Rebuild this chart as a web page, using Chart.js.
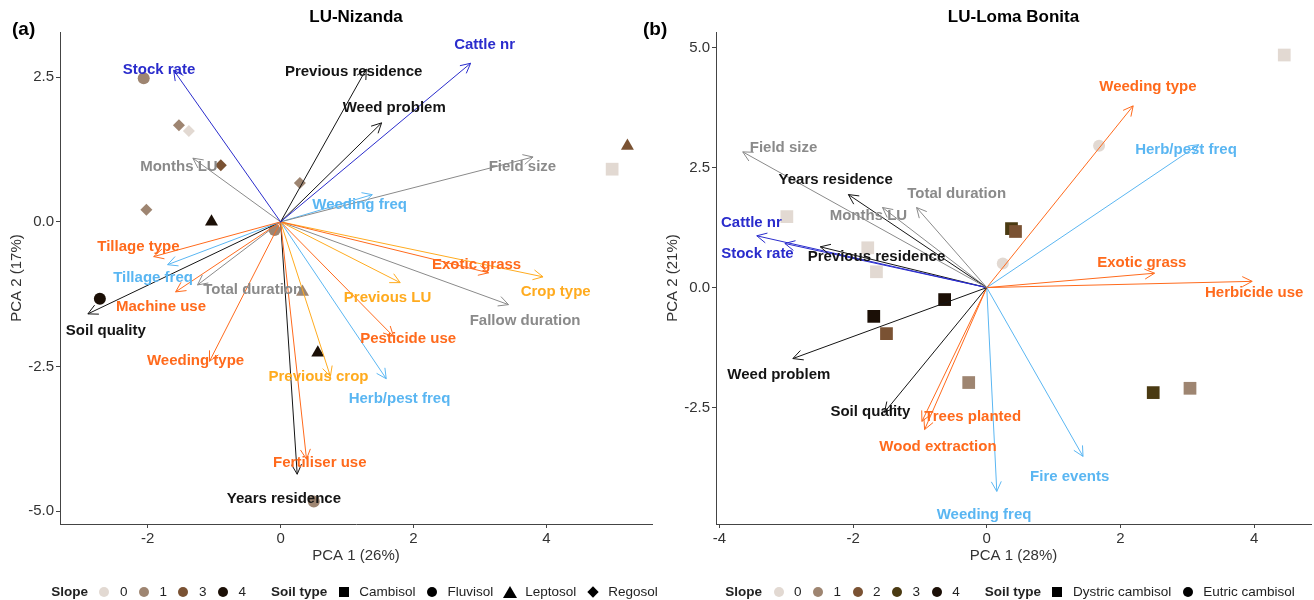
<!DOCTYPE html>
<html>
<head>
<meta charset="utf-8">
<script src="https://cdn.jsdelivr.net/npm/chart.js@4.4.1/dist/chart.umd.min.js"></script>
<style>
  html, body { margin: 0; padding: 0; background: #fff; }
  #wrap { position: relative; width: 1314px; height: 600px; overflow: hidden; font-family: "Liberation Sans", Arial, sans-serif; }
  canvas { position: absolute; top: 0; }
  #cNiz { left: 0; }
  #cLoma { left: 636px; }
  .legend { position: absolute; top: 583px; height: 17px; display: flex; align-items: center; justify-content: center; font-size: 13.5px; color: #222; white-space: nowrap; }
  .legend b { margin-right: 8px; }
  .key { width: 17px; height: 17px; display: flex; align-items: center; justify-content: center; flex: none; }
  .key .c { width: 10px; height: 10px; border-radius: 50%; }
  .key .s { width: 10px; height: 10px; background: #000; }
  .key .d { width: 8px; height: 8px; background: #000; transform: rotate(45deg); }
  .key .t { width: 0; height: 0; border-left: 7px solid transparent; border-right: 7px solid transparent; border-bottom: 12px solid #000; }
  .lab { margin-left: 7px; margin-right: 8px; }
  .gap { width: 17px; flex: none; }
</style>
</head>
<body>
<div id="wrap">
  <canvas id="cNiz" width="661" height="600"></canvas>
  <canvas id="cLoma" width="684" height="600"></canvas>
  <div class="legend" id="legNiz" style="left:57px;width:603px"></div>
  <div class="legend" id="legLoma" style="left:716px;width:596px"></div>
</div>
<script>
// ---------- (a) LU-Nizanda ----------
var nizVars = ['Stock rate','Cattle nr','Previous residence','Weed problem','Months LU','Field size',
  'Weeding freq','Tillage type','Tillage freq','Machine use','Total duration','Soil quality',
  'Exotic grass','Crop type','Previous LU','Fallow duration','Pesticide use','Herb/pest freq',
  'Previous crop','Weeding type','Fertiliser use','Years residence'];
var nizPc1 = [-1.61, 2.86, 1.29, 1.52, -1.32, 3.80, 1.38, -1.91, -1.70, -1.58, -1.25, -2.90,
  3.13, 3.95, 1.80, 3.43, 1.70, 1.59, 0.75, -1.07, 0.39, 0.25];
var nizPc2 = [2.62, 2.74, 2.64, 1.71, 1.10, 1.12, 0.47, -0.60, -0.74, -1.21, -1.09, -1.59,
  -0.88, -0.95, -1.05, -1.43, -1.98, -2.71, -2.67, -2.41, -4.10, -4.36];
var nizGroup = ['blue','blue','black','black','gray','gray','sky','red','sky','red','gray','black',
  'red','amber','amber','gray','red','sky','amber','red','red','black'];
var nizLabX = [-1.83, 3.07, 1.10, 1.71, -1.53, 3.64, 1.19, -2.14, -1.92, -1.80, -0.42, -2.63,
  2.95, 4.14, 1.61, 3.68, 1.92, 1.79, 0.57, -1.28, 0.59, 0.05];
var nizLabY = [2.62, 3.05, 2.60, 1.97, 0.95, 0.95, 0.29, -0.43, -0.97, -1.47, -1.17, -1.88,
  -0.74, -1.21, -1.31, -1.71, -2.02, -3.05, -2.67, -2.41, -4.16, -4.78];
var nizPtX = [-2.06, -1.53, -1.38, -0.90, 0.29, -2.02, -1.04, -0.09, 0.33, -2.72, 0.56, 0.50, 5.22, 4.99];
var nizPtY = [2.48, 1.67, 1.57, 0.98, 0.67, 0.21, 0.00, -0.14, -1.21, -1.33, -2.26, -4.83, 1.31, 0.91];
var nizPtSlope = ['1','1','0','3','1','1','4','1','1','4','4','1','3','0'];
var nizPtSoil = ['Fluvisol','Regosol','Regosol','Regosol','Regosol','Regosol','Leptosol','Fluvisol',
  'Leptosol','Fluvisol','Leptosol','Fluvisol','Leptosol','Cambisol'];
var nizSlopes = ['0','1','3','4'];
var nizSoils = ['Cambisol','Fluvisol','Leptosol','Regosol'];
var nizXTicks = [-2, 0, 2, 4];
var nizYTicks = [-5, -2.5, 0, 2.5];

// ---------- (b) LU-Loma Bonita ----------
var lomaVars = ['Weeding type','Field size','Herb/pest freq','Years residence','Total duration','Months LU',
  'Cattle nr','Stock rate','Previous residence','Exotic grass','Herbicide use','Weed problem',
  'Soil quality','Trees planted','Wood extraction','Fire events','Weeding freq'];
var lomaPc1 = [2.19, -3.65, 3.17, -2.07, -1.05, -1.56, -3.44, -3.02, -2.49, 2.51, 3.97, -2.90,
  -1.53, -0.97, -0.93, 1.44, 0.15];
var lomaPc2 = [3.79, 2.83, 2.98, 1.94, 1.67, 1.67, 1.08, 0.92, 0.85, 0.30, 0.13, -1.48,
  -2.60, -2.79, -2.96, -3.52, -4.25];
var lomaGroup = ['red','gray','sky','black','gray','gray','blue','blue','black','red','red','black',
  'black','red','red','sky','sky'];
var lomaLabX = [2.41, -3.04, 2.98, -2.26, -0.45, -1.77, -3.52, -3.43, -1.65, 2.32, 4.00, -3.11,
  -1.74, -0.21, -0.73, 1.24, -0.04];
var lomaLabY = [4.19, 2.92, 2.88, 2.25, 1.96, 1.50, 1.35, 0.71, 0.65, 0.52, -0.10, -1.81,
  -2.60, -2.69, -3.33, -3.94, -4.73];
var lomaPtX = [4.45, 1.68, -2.99, 0.37, 0.43, -1.78, -1.65, 0.24, -0.63, -1.69, -1.50, -0.27, 2.49, 3.04];
var lomaPtY = [4.85, 2.96, 1.48, 1.23, 1.17, 0.83, 0.33, 0.50, -0.25, -0.60, -0.96, -1.98, -2.19, -2.10];
var lomaPtSlope = ['0','0','0','3','2','0','0','0','4','4','2','1','3','1'];
var lomaPtSoil = ['Dystric cambisol','Eutric cambisol','Dystric cambisol','Dystric cambisol','Dystric cambisol',
  'Dystric cambisol','Dystric cambisol','Eutric cambisol','Dystric cambisol','Dystric cambisol',
  'Dystric cambisol','Dystric cambisol','Dystric cambisol','Dystric cambisol'];
var lomaSlopes = ['0','1','2','3','4'];
var lomaSoils = ['Dystric cambisol','Eutric cambisol'];
var lomaXTicks = [-4, -2, 0, 2, 4];
var lomaYTicks = [-2.5, 0, 2.5, 5];

// ---------- styles ----------
var groupColors = { blue: '#2a2ccc', black: '#141414', gray: '#8a8a8a', sky: '#5ab6f2', red: '#ff6a1c', amber: '#ffab1f' };
var nizSlopeColors = { '0': '#e2d9d2', '1': '#9e8571', '3': '#7a5233', '4': '#1b0f06' };
var lomaSlopeColors = { '0': '#e2d9d2', '1': '#9e8571', '2': '#7a5233', '3': '#4a3a12', '4': '#1b0f06' };
var soilShapes = { 'Cambisol': 'rect', 'Fluvisol': 'circle', 'Leptosol': 'triangle', 'Regosol': 'rectRot',
  'Dystric cambisol': 'rect', 'Eutric cambisol': 'circle' };
var shapeRadius = { rect: 9, circle: 6, triangle: 7.5, rectRot: 6 };
var FONT = '"Liberation Sans", Arial, Helvetica, sans-serif';

var biplotPlugin = {
  id: 'biplot',
  afterDatasetsDraw: function(chart) {
    var p = chart.options.plugins.biplot;
    var ctx = chart.ctx, xs = chart.scales.x, ys = chart.scales.y, area = chart.chartArea;
    var x0 = xs.getPixelForValue(0), y0 = ys.getPixelForValue(0);
    ctx.save();
    // arrow heads
    ctx.lineWidth = 1;
    for (var i = 0; i < p.vars.length; i++) {
      var x1 = xs.getPixelForValue(p.pc1[i]), y1 = ys.getPixelForValue(p.pc2[i]);
      var a = Math.atan2(y1 - y0, x1 - x0), L = 11, w = 0.47;
      ctx.strokeStyle = groupColors[p.groups[i]];
      ctx.beginPath();
      ctx.moveTo(x1 - L * Math.cos(a - w), y1 - L * Math.sin(a - w));
      ctx.lineTo(x1, y1);
      ctx.lineTo(x1 - L * Math.cos(a + w), y1 - L * Math.sin(a + w));
      ctx.stroke();
    }
    // variable labels
    ctx.font = 'bold 15px ' + FONT;
    ctx.textAlign = 'center';
    ctx.textBaseline = 'middle';
    for (var j = 0; j < p.vars.length; j++) {
      ctx.fillStyle = groupColors[p.groups[j]];
      ctx.fillText(p.vars[j], xs.getPixelForValue(p.labX[j]), ys.getPixelForValue(p.labY[j]));
    }
    // title and tag
    ctx.fillStyle = '#000';
    ctx.font = 'bold 17px ' + FONT;
    ctx.fillText(p.title, (area.left + area.right) / 2, 17);
    ctx.textAlign = 'left';
    ctx.font = 'bold 19px ' + FONT;
    ctx.fillText(p.tag, p.tagX, 30);
    ctx.restore();
  }
};

function buildChart(canvasId, d) {
  var datasets = [];
  for (var i = 0; i < d.vars.length; i++) {
    datasets.push({
      data: [{ x: 0, y: 0 }, { x: d.pc1[i], y: d.pc2[i] }],
      showLine: true, borderColor: groupColors[d.groups[i]], borderWidth: 1,
      pointRadius: 0, order: 1
    });
  }
  var pts = [], styles = [], colors = [], radii = [];
  for (var k = 0; k < d.ptX.length; k++) {
    pts.push({ x: d.ptX[k], y: d.ptY[k] });
    var st = soilShapes[d.ptSoil[k]];
    styles.push(st);
    colors.push(d.slopeColors[d.ptSlope[k]]);
    radii.push(shapeRadius[st]);
  }
  datasets.push({
    data: pts, pointStyle: styles, pointBackgroundColor: colors, pointBorderWidth: 0,
    pointBorderColor: colors, pointRadius: radii, showLine: false, order: 2
  });

  function axis(min, max, ticks, title, dec, isY) {
    var cfg = {
      type: 'linear', min: min, max: max,
      afterBuildTicks: function(s) { s.ticks = ticks.map(function(v) { return { value: v }; }); },
      grid: { display: true, drawOnChartArea: false, drawTicks: true, tickLength: 4, color: '#444' },
      border: { display: true, color: '#444', width: 1 },
      ticks: { color: '#333', font: { size: 15, family: FONT }, padding: 2,
        callback: function(v) { return dec ? v.toFixed(1) : String(v); } },
      title: { display: true, text: title, color: '#333', font: { size: 15, family: FONT } }
    };
    if (isY) {
      cfg.afterFit = function(s) { s.width = 60; };
      cfg.title.padding = { top: 8, bottom: 0 };
    } else {
      cfg.afterFit = function(s) { s.height = 45; };
      cfg.title.padding = { top: 0, bottom: 4 };
    }
    return cfg;
  }

  return new Chart(document.getElementById(canvasId), {
    type: 'scatter',
    data: { datasets: datasets },
    options: {
      responsive: false, animation: false,
      layout: { padding: { left: d.padLeft, top: 32, right: d.padRight, bottom: 31 } },
      plugins: {
        legend: { display: false }, tooltip: { enabled: false },
        biplot: { vars: d.vars, pc1: d.pc1, pc2: d.pc2, groups: d.groups, labX: d.labX, labY: d.labY,
          title: d.title, tag: d.tag, tagX: d.tagX }
      },
      scales: {
        x: axis(d.xMin, d.xMax, d.xTicks, d.xTitle, false, false),
        y: axis(d.yMin, d.yMax, d.yTicks, d.yTitle, true, true)
      }
    },
    plugins: [biplotPlugin]
  });
}

buildChart('cNiz', {
  vars: nizVars, pc1: nizPc1, pc2: nizPc2, groups: nizGroup, labX: nizLabX, labY: nizLabY,
  ptX: nizPtX, ptY: nizPtY, ptSlope: nizPtSlope, ptSoil: nizPtSoil, slopeColors: nizSlopeColors,
  xMin: -3.32, xMax: 5.59, yMin: -5.22, yMax: 3.28, xTicks: nizXTicks, yTicks: nizYTicks,
  xTitle: 'PCA 1 (26%)', yTitle: 'PCA 2 (17%)', title: 'LU-Nizanda', tag: '(a)', tagX: 12,
  padLeft: 0, padRight: 2
});
buildChart('cLoma', {
  vars: lomaVars, pc1: lomaPc1, pc2: lomaPc2, groups: lomaGroup, labX: lomaLabX, labY: lomaLabY,
  ptX: lomaPtX, ptY: lomaPtY, ptSlope: lomaPtSlope, ptSoil: lomaPtSoil, slopeColors: lomaSlopeColors,
  xMin: -4.05, xMax: 4.85, yMin: -4.93, yMax: 5.33, xTicks: lomaXTicks, yTicks: lomaYTicks,
  xTitle: 'PCA 1 (28%)', yTitle: 'PCA 2 (21%)', title: 'LU-Loma Bonita', tag: '(b)', tagX: 7,
  padLeft: 20, padRight: 3
});

// ---------- HTML legends ----------
function buildLegend(id, slopes, slopeColors, soils) {
  var html = '<b>Slope</b>';
  slopes.forEach(function(s) {
    html += '<span class="key"><span class="c" style="background:' + slopeColors[s] + '"></span></span><span class="lab">' + s + '</span>';
  });
  html += '<span class="gap"></span><b>Soil type</b>';
  var cls = { rect: 's', circle: 'c', triangle: 't', rectRot: 'd' };
  soils.forEach(function(s) {
    var c = cls[soilShapes[s]];
    html += '<span class="key"><span class="' + c + '"' + (c === 'c' ? ' style="background:#000"' : '') + '></span></span><span class="lab">' + s + '</span>';
  });
  document.getElementById(id).innerHTML = html;
}
buildLegend('legNiz', nizSlopes, nizSlopeColors, nizSoils);
buildLegend('legLoma', lomaSlopes, lomaSlopeColors, lomaSoils);
</script>
</body>
</html>
